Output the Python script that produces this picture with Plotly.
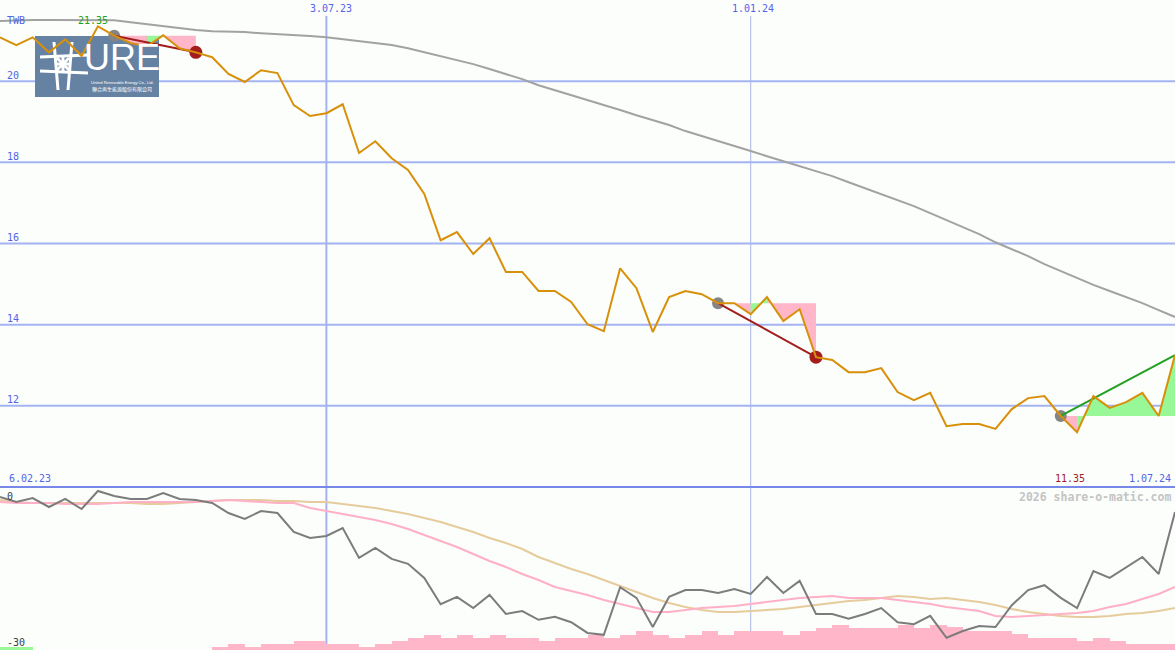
import plotly.graph_objects as go
import pandas as pd

W, H = 1175, 650

# ---------------- data ----------------
dates = pd.date_range("2023-02-13", periods=73, freq="7D")

price = [21.08, 20.89, 21.08, 20.71, 21.03, 20.62, 21.35, 21.12, 20.94, 20.86,
         21.13, 20.81, 20.71, 20.59, 20.18, 19.98, 20.27, 20.20, 19.41, 19.14,
         19.21, 19.43, 18.23, 18.52, 18.10, 17.81, 17.22, 16.08, 16.28, 15.74,
         16.13, 15.30, 15.30, 14.83, 14.83, 14.56, 14.01, 13.84, 15.39, 14.90,
         13.82, 14.68, 14.83, 14.75, 14.53, 14.53, 14.26, 14.68, 14.09, 14.38,
         13.20, 13.13, 12.83, 12.83, 12.93, 12.34, 12.14, 12.32, 11.50, 11.55,
         11.55, 11.43, 11.92, 12.19, 12.24, 11.75, 11.35, 12.24, 11.95, 12.09,
         12.32, 11.75, 13.25]

ma_long = [21.48, 21.50, 21.51, 21.51, 21.51, 21.51, 21.51, 21.50, 21.45, 21.40,
           21.35, 21.31, 21.26, 21.23, 21.22, 21.21, 21.18, 21.16, 21.13, 21.11,
           21.08, 21.03, 20.99, 20.94, 20.89, 20.81, 20.71, 20.62, 20.52, 20.42,
           20.30, 20.17, 20.05, 19.90, 19.78, 19.66, 19.53, 19.41, 19.29, 19.16,
           19.04, 18.92, 18.77, 18.65, 18.52, 18.40, 18.28, 18.15, 18.03, 17.91,
           17.78, 17.66, 17.51, 17.36, 17.22, 17.07, 16.92, 16.75, 16.58, 16.40,
           16.23, 16.03, 15.86, 15.69, 15.49, 15.32, 15.15, 14.98, 14.83, 14.68,
           14.53, 14.36, 14.19]

rel_line = [1.03, 0.00, 0.82, -1.03, 0.62, -1.44, 2.26, 1.23, 0.62, 0.62,
            1.85, 0.62, 0.41, -0.21, -2.26, -3.49, -1.85, -2.26, -6.16, -7.40,
            -6.99, -5.34, -11.5, -9.45, -11.7, -12.7, -15.6, -21.0, -19.5, -21.8,
            -19.1, -23.0, -22.4, -24.2, -23.6, -24.7, -26.9, -27.3, -17.5, -19.7,
            -25.7, -19.5, -18.1, -18.1, -18.7, -17.9, -18.9, -15.4, -18.7, -16.2,
            -23.0, -23.0, -24.0, -23.0, -21.8, -24.7, -25.1, -23.4, -27.9, -26.5,
            -25.5, -25.7, -21.2, -18.1, -17.1, -19.7, -21.8, -14.2, -15.6, -13.4,
            -11.3, -14.8, -2.05]

ma_pink = [0.00, -0.21, -0.21, -0.21, -0.41, -0.41, -0.41, -0.21, 0.00, 0.00,
           0.00, 0.00, 0.00, 0.21, 0.41, 0.21, 0.00, -0.21, -0.21, -1.23,
           -1.85, -2.47, -3.08, -3.70, -4.52, -5.55, -6.78, -8.01, -9.25, -10.68,
           -12.12, -13.36, -14.79, -16.03, -17.46, -18.29, -19.11, -20.14, -20.96, -21.78,
           -22.60, -22.60, -22.19, -21.78, -21.57, -21.37, -20.96, -20.55, -20.14, -19.72,
           -19.52, -19.31, -19.72, -19.72, -19.72, -20.14, -20.55, -20.96, -21.57, -21.98,
           -22.40, -23.42, -23.63, -23.42, -23.22, -23.01, -22.81, -22.40, -21.57, -20.96,
           -19.93, -18.90, -17.46]

ma_tan = [0.41, 0.00, -0.21, -0.21, -0.21, -0.21, -0.21, -0.21, -0.21, -0.41,
          -0.41, -0.21, 0.00, 0.21, 0.41, 0.41, 0.41, 0.21, 0.21, 0.00,
          0.00, -0.41, -0.82, -1.23, -1.85, -2.47, -3.29, -4.11, -5.14, -6.16,
          -7.40, -8.42, -9.66, -11.30, -12.53, -13.77, -14.79, -16.03, -17.26, -18.49,
          -19.72, -20.75, -21.57, -22.19, -22.60, -22.60, -22.40, -22.19, -21.98, -21.57,
          -21.16, -20.75, -20.34, -20.14, -19.72, -19.31, -19.52, -19.93, -19.72, -20.14,
          -20.55, -21.16, -21.98, -22.60, -23.01, -23.42, -23.63, -23.63, -23.42, -23.01,
          -22.81, -22.40, -21.78]

hist = [0.62, 0.62, None, None, None, None, None, None, None, None,
        None, None, None, 0.62, 1.23, 0.62, 1.23, 1.23, 1.85, 1.85,
        1.23, 1.23, 0.62, 1.23, 1.85, 2.47, 3.08, 2.47, 3.08, 2.47,
        3.08, 2.47, 2.47, 1.85, 2.47, 2.47, 3.08, 2.47, 3.08, 3.90,
        3.08, 2.47, 3.08, 3.90, 3.08, 3.90, 3.90, 3.90, 3.08, 3.90,
        4.52, 5.14, 4.52, 4.52, 4.52, 5.14, 4.52, 5.14, 4.73, 3.90,
        3.90, 3.90, 3.29, 2.47, 2.47, 2.47, 1.85, 2.47, 1.85, 1.23,
        1.23, 1.23, None]
hist_up = [True, True] + [False] * 71

# trades: (start index, end index, index ranges drawn green, closed?)
trades = [(7, 12, [(9, 10)], True),
          (44, 50, [(46, 47)], True),
          (65, 72, [(66, 72)], False)]

grid_levels = [12, 14, 16, 18, 20]
vline_dates = ["2023-07-03", "2024-01-01"]
vline_labels = ["3.07.23", "1.01.24"]
first_label, last_label = "6.02.23", "1.07.24"
y_main = [10, 22]
y_sub = [-30.41, 3.08]

# ---------------- styling ----------------
BG = "#fbfefb"
BLUE_TXT = "#5563e8"
GRID = "#a4b3f2"
ORANGE = "#d8900a"
PINK_FILL = "#ffb6c9"
GREEN_FILL = "#98f898"
DARKRED = "#a31d1d"
GREEN_LINE = "#22a022"
MONO = "DejaVu Sans Mono"

split = 1 - 487 / H


def px(x):
    return x / W


def py(y):
    return 1 - y / H


fig = go.Figure()

# long moving average (grey)
fig.add_trace(go.Scatter(x=dates, y=ma_long, mode="lines",
                         line=dict(color="#a2a2a2", width=2), xaxis="x", yaxis="y"))

# trade fills
for s, e, greens, closed in trades:
    level = price[s]
    cuts = sorted(set([s, e] + [g for r in greens for g in r]))
    for a, b in zip(cuts[:-1], cuts[1:]):
        is_green = any(a >= g0 and b <= g1 for g0, g1 in greens)
        xs = list(dates[a:b + 1]) + [dates[b], dates[a]]
        ys = price[a:b + 1] + [level, level]
        fig.add_trace(go.Scatter(x=xs, y=ys, mode="lines", fill="toself",
                                 fillcolor=GREEN_FILL if is_green else PINK_FILL,
                                 line=dict(width=0), xaxis="x", yaxis="y"))

# trade markers and lines
for s, e, greens, closed in trades:
    fig.add_trace(go.Scatter(x=[dates[s]], y=[price[s]], mode="markers",
                             marker=dict(color="#858585", size=12), xaxis="x", yaxis="y"))
    if closed:
        fig.add_trace(go.Scatter(x=[dates[e]], y=[price[e]], mode="markers",
                                 marker=dict(color=DARKRED, size=13), xaxis="x", yaxis="y"))
    fig.add_trace(go.Scatter(x=[dates[s], dates[e]], y=[price[s], price[e]], mode="lines",
                             line=dict(color=DARKRED if closed else GREEN_LINE, width=2),
                             xaxis="x", yaxis="y"))

# price line
fig.add_trace(go.Scatter(x=dates, y=price, mode="lines",
                         line=dict(color=ORANGE, width=2), xaxis="x", yaxis="y"))

# ---- lower panel ----
bar_x = [d for d, h in zip(dates, hist) if h is not None]
bar_h = [h for h in hist if h is not None]
bar_c = [GREEN_FILL if u else PINK_FILL for h, u in zip(hist, hist_up) if h is not None]
fig.add_trace(go.Bar(x=bar_x, y=bar_h, base=y_sub[0], marker=dict(color=bar_c, line=dict(width=0)),
                     width=7 * 86400000, offset=0, xaxis="x", yaxis="y2"))
fig.add_trace(go.Scatter(x=dates, y=ma_tan, mode="lines",
                         line=dict(color="#e6cc9c", width=2), xaxis="x", yaxis="y2"))
fig.add_trace(go.Scatter(x=dates, y=ma_pink, mode="lines",
                         line=dict(color="#ffb0c6", width=2), xaxis="x", yaxis="y2"))
fig.add_trace(go.Scatter(x=dates, y=rel_line, mode="lines",
                         line=dict(color="#7c7c7c", width=2), xaxis="x", yaxis="y2"))

# ---------------- shapes ----------------
shapes = []
for lv in grid_levels:
    shapes.append(dict(type="line", xref="paper", yref="y", x0=0, x1=1, y0=lv, y1=lv,
                       line=dict(color=GRID, width=2), layer="below"))
shapes.append(dict(type="line", xref="x", yref="paper", x0=vline_dates[0], x1=vline_dates[0],
                   y0=0, y1=py(16), line=dict(color=GRID, width=2), layer="below"))
shapes.append(dict(type="line", xref="x", yref="paper", x0=vline_dates[1], x1=vline_dates[1],
                   y0=0, y1=py(16), line=dict(color="#aab4e6", width=1), layer="below"))
shapes.append(dict(type="line", xref="paper", yref="paper", x0=0, x1=1, y0=split, y1=split,
                   line=dict(color="#7888e8", width=2), layer="below"))
# logo box
shapes.append(dict(type="rect", xref="paper", yref="paper", x0=px(35), x1=px(159),
                   y0=py(97), y1=py(36), fillcolor="#6682a3", line=dict(width=0), layer="below"))
# logo symbol strokes
for (x0, y0, x1, y1) in [(54, 42, 58, 90), (72, 42, 68, 90), (40, 57, 88, 55), (40, 71, 88, 73),
                         (57, 58, 69, 70), (69, 58, 57, 70), (63, 56, 63, 72), (56, 64, 70, 64)]:
    shapes.append(dict(type="line", xref="paper", yref="paper", x0=px(x0), x1=px(x1),
                       y0=py(y0), y1=py(y1), line=dict(color="white", width=3), layer="below"))

# ---------------- annotations ----------------
ann = []


def label(text, x, y, color=BLUE_TXT, size=10, anchor="left", family=MONO, bold=False):
    ann.append(dict(text=f"<b>{text}</b>" if bold else text, x=px(x), y=py(y), xref="paper", yref="paper",
                    showarrow=False, xanchor=anchor, yanchor="middle",
                    font=dict(family=family, size=size, color=color)))


label("TWB", 5, 21)
label("21.35", 93, 21, color=GREEN_LINE, anchor="center")
for lv in grid_levels:
    label(str(lv), 5, 487 - (lv - y_main[0]) * 487 / (y_main[1] - y_main[0]) - 6)
label(vline_labels[0], 331, 9, anchor="center")
label(vline_labels[1], 753, 9, anchor="center")
label(first_label, 7, 478.5)
label(last_label, 1173, 478.5, anchor="right")
label("11.35", 1070, 478.5, color=DARKRED, anchor="center")
label("0", 5, 496, color="#404040")
label("-30", 5, 642, color="#404040")
label("2026 share-o-matic.com", 1173, 496.5, color="#c4c4c4", size=11.5, anchor="right", bold=True)
# logo text
label("URE", 122, 57, color="white", size=36, anchor="center",
      family="Liberation Sans Narrow, sans-serif")
label("United Renewable Energy Co., Ltd.", 122, 83, color="white", size=4, anchor="center",
      family="Liberation Sans, sans-serif")
label("聯合再生能源股份有限公司", 122, 89, color="white", size=5, anchor="center",
      family="Noto Sans CJK TC")

fig.update_layout(
    width=W, height=H, autosize=False,
    margin=dict(l=0, r=0, t=0, b=0, pad=0),
    paper_bgcolor=BG, plot_bgcolor=BG,
    showlegend=False, bargap=0,
    xaxis=dict(type="date", range=[dates[0], dates[-1]], visible=False, anchor="y2",
               showgrid=False, zeroline=False),
    yaxis=dict(domain=[split, 1], range=y_main, visible=False, showgrid=False, zeroline=False,
               anchor="x"),
    yaxis2=dict(domain=[0, split], range=y_sub, visible=False, showgrid=False, zeroline=False,
                anchor="x"),
    shapes=shapes, annotations=ann,
)

fig.write_html("out.html", config={"displayModeBar": False},
               post_script="document.body.style.margin='0';document.body.style.overflow='hidden';")
